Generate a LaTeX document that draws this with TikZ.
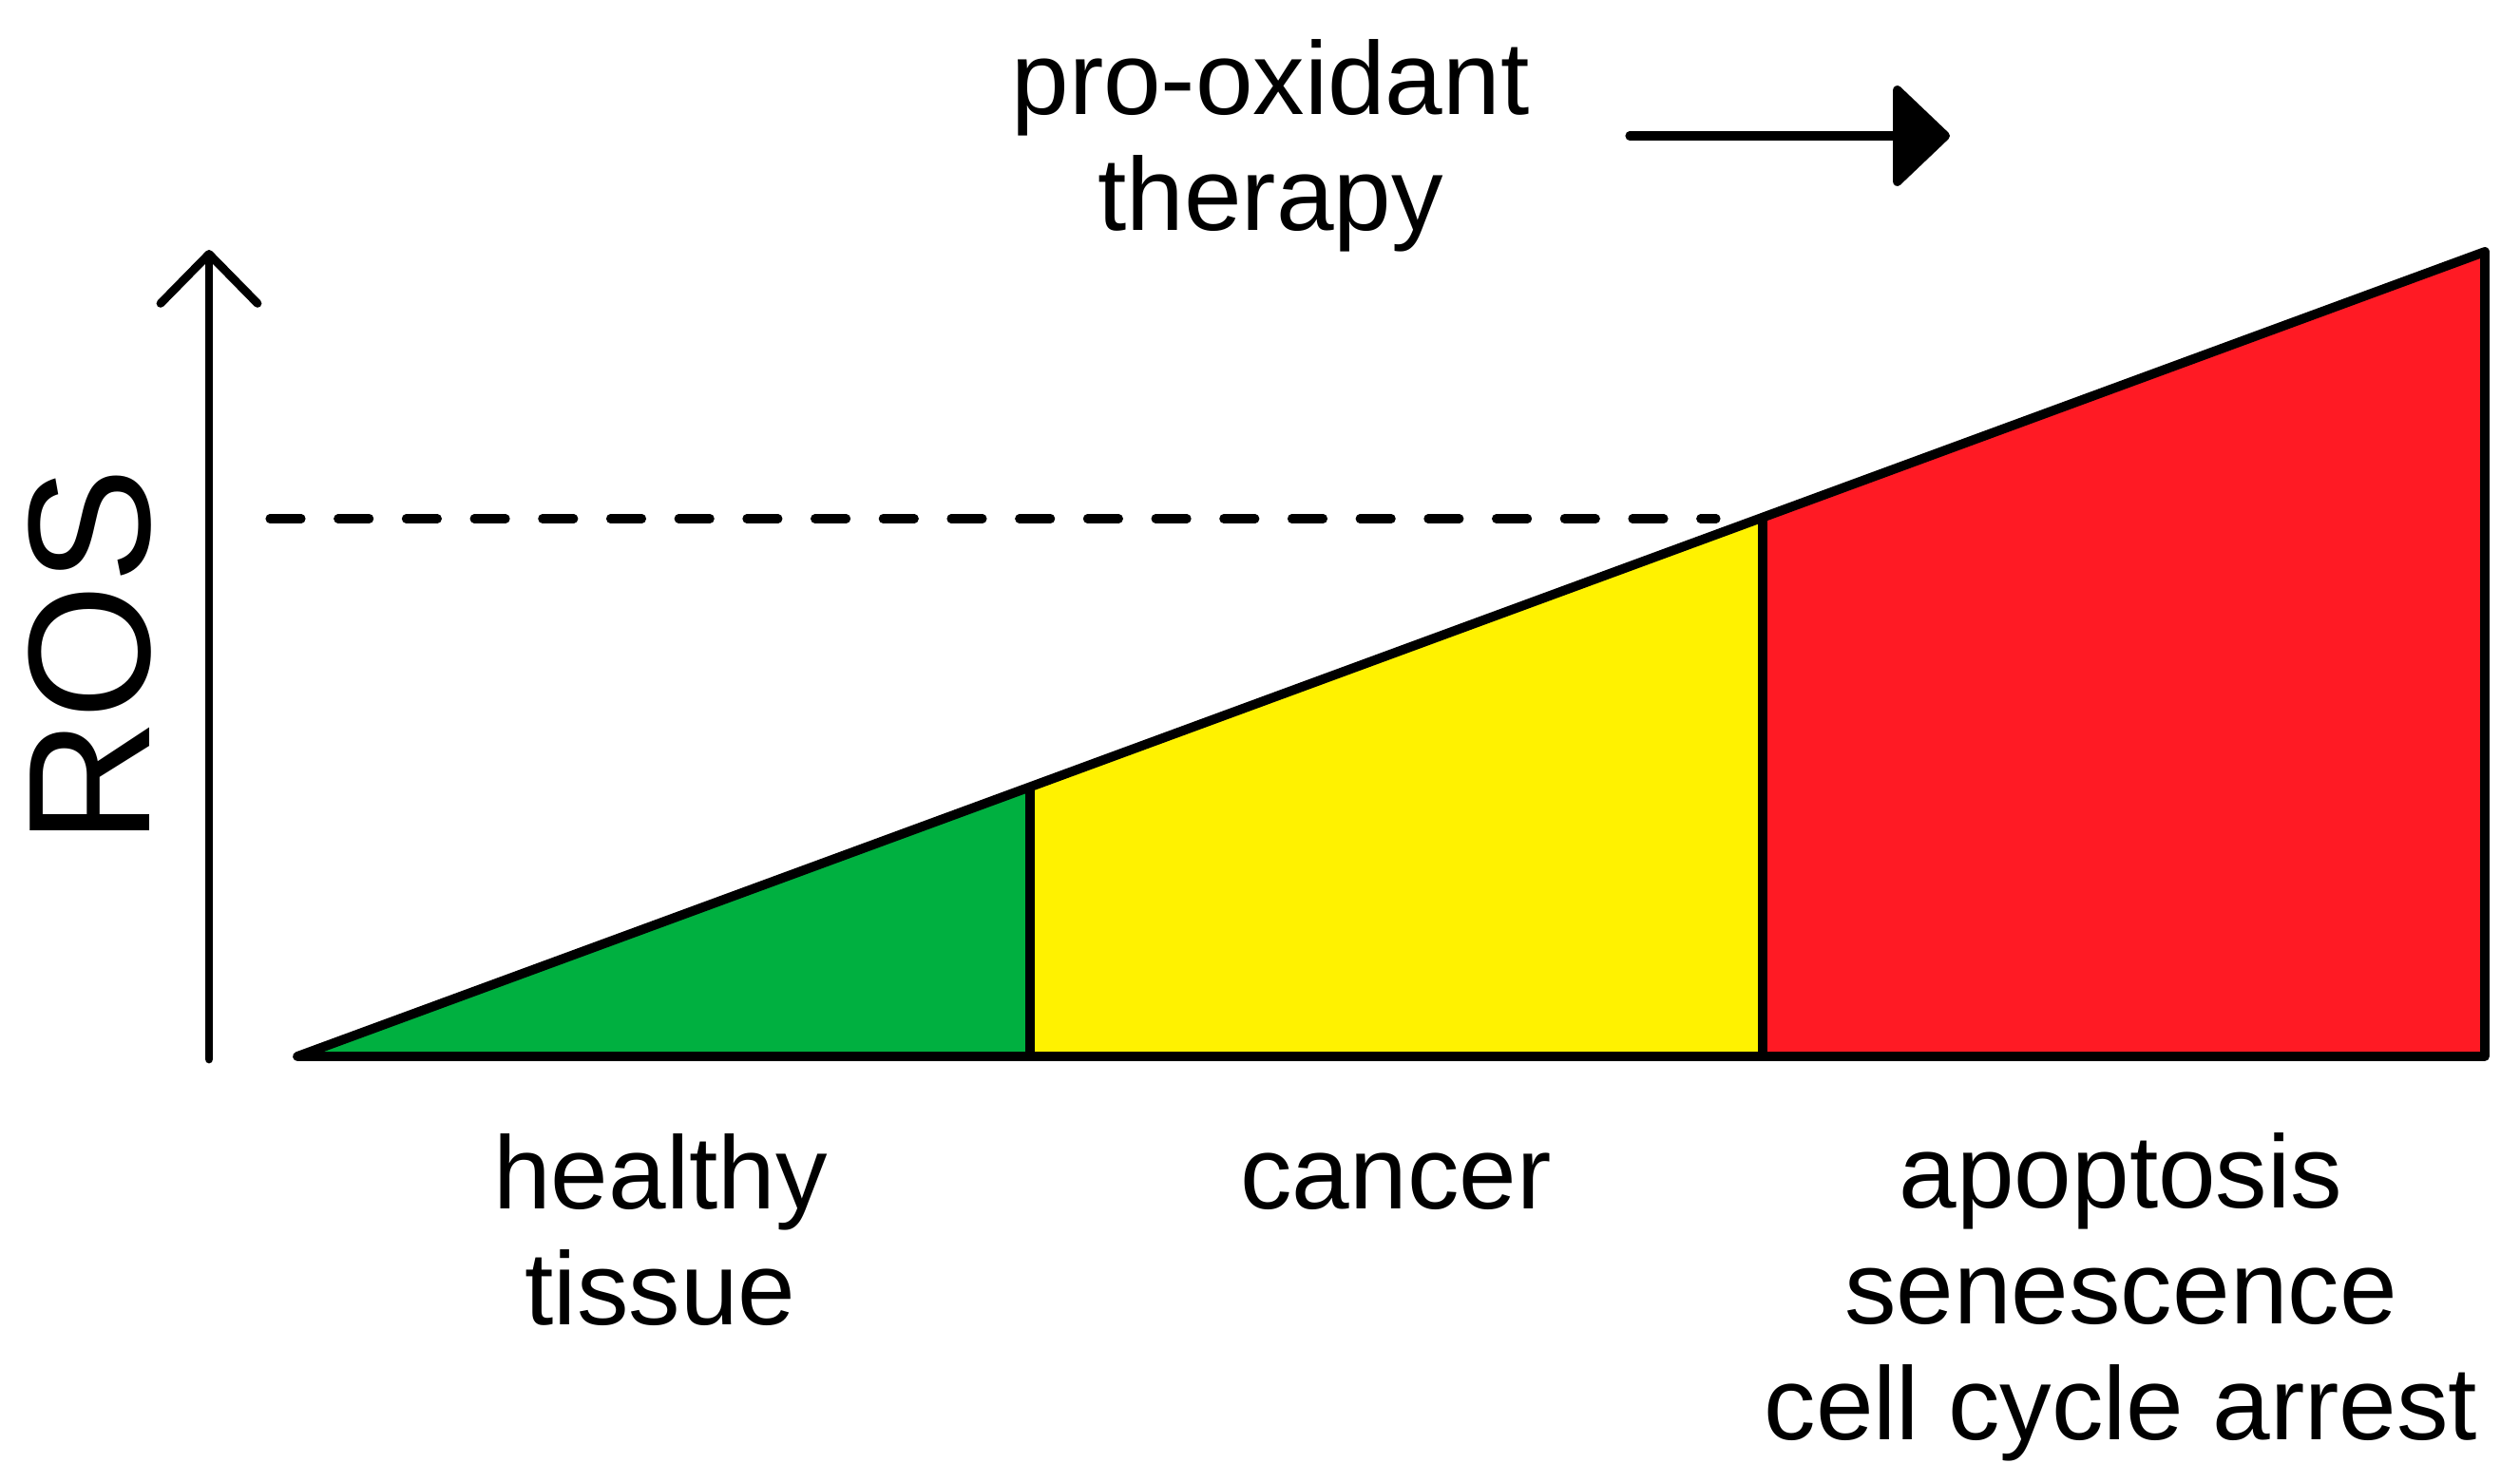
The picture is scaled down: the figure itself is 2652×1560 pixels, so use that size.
\documentclass[tikz,border=0pt]{standalone}
\usepackage{fontspec}
\setmainfont{Liberation Sans}
\usetikzlibrary{arrows.meta}

\definecolor{zonegreen}{RGB}{0,176,64}
\definecolor{zoneyellow}{RGB}{255,242,0}
\definecolor{zonered}{RGB}{255,26,36}

\tikzset{
  zone/.style={draw=black, line width=2.8pt, line join=round},
  txt/.style={font=\fontsize{31}{34.6}\selectfont, align=center, inner sep=0pt, anchor=base}
}

\begin{document}
\begin{tikzpicture}[x=0.1mm,y=-0.1mm]
    \useasboundingbox (0,0) rectangle (2652,1560);
    \coordinate (o) at (313,1112);
    \coordinate (g) at (1084,828);
    \coordinate (gb) at (1084,1112);
    \coordinate (y) at (1855,545);
    \coordinate (yb) at (1855,1112);
    \coordinate (r) at (2615,265);
    \coordinate (rb) at (2615,1112);
    \fill[zonegreen] (o) -- (g) -- (gb) -- cycle;
    \fill[zoneyellow] (gb) -- (g) -- (y) -- (yb) -- cycle;
    \fill[zonered] (yb) -- (y) -- (r) -- (rb) -- cycle;
    \draw[zone] (o) -- (r) -- (rb) -- cycle;
    \draw[zone] (g) -- (gb);
    \draw[zone] (y) -- (yb);
    % ROS axis
    \coordinate (ax0) at (220,1115);
    \coordinate (ax1) at (220,263);
    \draw[line width=2.5pt, line cap=round, -{Straight Barb[length=5.2mm,width=10.2mm,round]}] (ax0) -- (ax1);
    \node[rotate=90, font=\fontsize{52}{60}\selectfont, inner sep=0pt] (ros) at (95,691) {ROS};
    \coordinate (d0) at (284,546);
    \coordinate (d1) at (1806,546);
    \draw[line width=2.6pt, line cap=round, dash pattern=on 3.3mm off 3.87mm] (d0) -- (d1);
    % therapy arrow
    \node[txt] (therapy) at (1337,242) {pro-oxidant\\therapy};
    \coordinate (t0) at (1715,143);
    \coordinate (t1) at (2052,143);
    \draw[line width=2.6pt, line cap=round, -{Triangle[length=6.2mm,width=11.6mm,round]}] (t0) -- (t1);
    % zone labels
    \node[txt] (healthy) at (695,1394) {healthy\\tissue};
    \node[txt] (cancer) at (1469,1272) {cancer};
    \node[txt] (fate) at (2232,1515) {apoptosis\\senescence\\cell cycle arrest};
\end{tikzpicture}
\end{document}
